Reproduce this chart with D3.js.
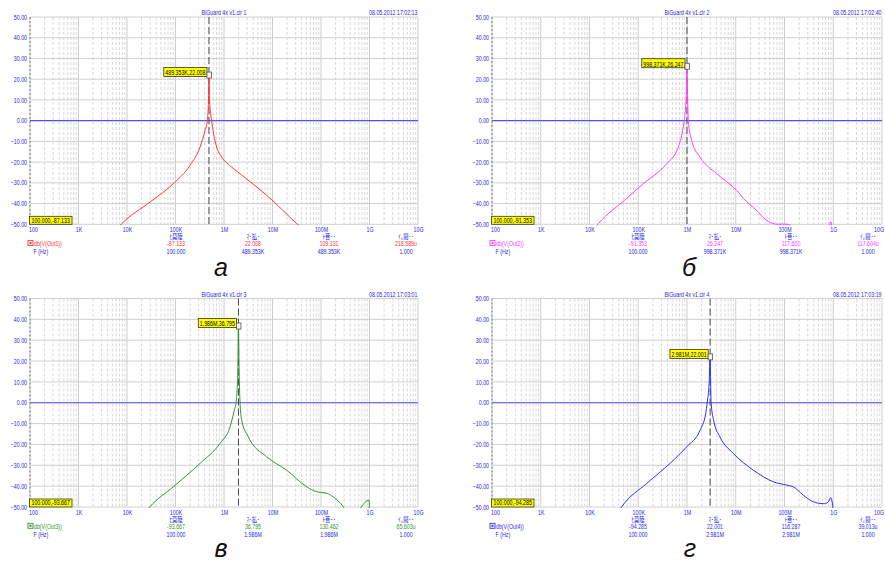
<!DOCTYPE html>
<html><head><meta charset="utf-8">
<script src="https://cdn.jsdelivr.net/npm/d3@7"></script>
<style>
body{margin:0;background:#fff}
svg{display:block}
text{font-family:"Liberation Sans Narrow","Liberation Sans",Arial,"Noto Sans CJK JP",sans-serif}
</style>
</head><body><svg id="c" width="885" height="569"></svg>
<script>
// ---- data ----
const freqTicks = [1e2,1e3,1e4,1e5,1e6,1e7,1e8,1e9,1e10];
const tickLabels = ["100","1K","10K","100K","1M","10M","100M","1G","10G"];
const dbTicks = [50,40,30,20,10,0,-10,-20,-30,-40,-50];

const titles = ["BiGuard 4x v1.cir 1","BiGuard 4x v1.cir 2","BiGuard 4x v1.cir 3","BiGuard 4x v1.cir 4"];
const dates = ["08.05.2012 17:02:13","08.05.2012 17:02:40","08.05.2012 17:03:01","08.05.2012 17:03:19"];
const seriesNames = ["db(V(Out1))","db(V(Out2))","db(V(Out3))","db(V(Out4))"];
const panelLetters = ["а","б","в","г"];

const f1 = [6.31e3,7.78e3,29.8e3,90.2e3,199e3,320e3,406e3,453e3,479e3,489.353e3,501e3,557e3,652e3,895e3,1.23e6,2.138e6,7.586e6,31.6e6,50e6];
const v1 = [-52,-49.7,-39.3,-30.4,-21.6,-12.8,-4.8,0,10,22.008,10,0,-9.6,-17.6,-21.0,-25.6,-36.0,-49.7,-54];

const f2 = [12.6e3,15.2e3,58.0e3,127e3,383e3,662e3,815e3,879e3,966e3,998.371e3,1.028e6,1.064e6,1.247e6,1.849e6,4.064e6,10.47e6,14.3e6,26.9e6,39.8e6,56.2e6,72.4e6,100e6,129e6,158e6,794e6,887e6,977e6,1.2e9];
const v2 = [-52,-49.7,-37.5,-30.4,-20.8,-12.8,-4.8,0,12,26.247,12,0,-9.6,-17.6,-25.6,-33.7,-37.5,-43.3,-47.5,-49.5,-50,-49.9,-50.2,-53,-53,-48.8,-53,-60];

const f3 = [25.1e3,29.8e3,90.2e3,320e3,828e3,1.33e6,1.633e6,1.778e6,1.928e6,1.986e6,2.051e6,2.138e6,2.317e6,3.177e6,7.586e6,19.5e6,50.6e6,81.3e6,131e6,178e6,288e6,331e6,501e6,676e6,977e6,1.012e9];
const v3 = [-52,-49.9,-40.3,-29.1,-19.5,-11.6,-3.6,0.4,15,36.795,15,0.4,-8.4,-16.4,-25.9,-32.3,-40.3,-42.7,-43.4,-45.1,-49.9,-52,-55,-50,-46.7,-56];

const f4 = [39.8e3,45.7e3,149e3,448e3,986e3,1.849e6,2.415e6,2.606e6,2.851e6,2.981e6,3.055e6,3.112e6,3.516e6,4.753e6,8.913e6,22.9e6,58.9e6,111e6,151e6,243e6,389e6,625e6,793e6,885e6,1e9,1.02e9];
const v4 = [-52,-49.9,-38.7,-29.1,-21.1,-13.2,-5.2,0.4,10,22.001,10,0.4,-8.4,-16.4,-24.3,-32.3,-37.9,-39.5,-40.3,-44.3,-47.5,-48.4,-47.6,-45.5,-52,-56];

const peakFreq = [489353, 998371, 1986000, 2981000];
const peakDb = [22.008, 26.247, 36.795, 22.001];
const peakLabels = ["489.353K,22.008","998.371K,26.247","1.986M,36.795","2.981M,22.001"];
const startLabels = ["100.000,-87.133","100.000,-91.353","100.000,-93.667","100.000,-94.285"];

const statHeaders = ["ﾋ莫陸","ﾏ･払･","ﾄ菩･･","ｲ｡鬪･･"];
const statValues = [["-87.133","22.008","109.131","218.589u"],["-91.353","26.247","117.600","117.604u"],["-93.667","36.795","130.462","65.603u"],["-94.285","22.001","116.287","39.013u"]];
const statFreqs = [["100.000","489.353K","489.353K","1.000"],["100.000","998.371K","998.371K","1.000"],["100.000","1.986M","1.986M","1.000"],["100.000","2.981M","2.981M","1.000"]];

// ---- layout / style ----
const freqs = [f1,f2,f3,f4], vals = [v1,v2,v3,v4];
const colors = ["#ff3535","#ff3dff","#2f962f","#2f2ff5"];
const boxes = [
  {L:30,R:418,T:17,B:224.3,lx:221,ly:276},
  {L:492,R:882,T:17,B:224.3,lx:689,ly:276},
  {L:30,R:418,T:298.5,B:507,lx:221,ly:557},
  {L:492,R:882,T:298.5,B:507,lx:690,ly:557}
];
const blue = "#2424e6";
const fs = 6.6;
const K = 0.8; // horizontal condensing of the small UI text
const colOff = [146,223,299,376];

function sq(sel){
  sel.each(function(){
    const x0 = +(this.getAttribute("x") || 0);
    const dx0 = +(this.getAttribute("dx") || 0);
    this.setAttribute("x", x0 / K);
    if (dx0) this.setAttribute("dx", dx0 / K);
    this.setAttribute("transform", `scale(${K},1)`);
  });
  return sel;
}
function bbox(node){
  const b = node.getBBox();
  return {x: b.x*K, width: b.width*K, y: b.y, height: b.height};
}

const svg = d3.select("#c");

boxes.forEach((b,p)=>{
  const x = d3.scaleLog().domain([1e2,1e10]).range([b.L,b.R]);
  const y = d3.scaleLinear().domain([-50,50]).range([b.B,b.T]);
  const g = svg.append("g");
  const nearEdge = b.R > 870;

  // grid
  x.ticks().forEach(t=>{
    const major = Math.abs(Math.log10(t)-Math.round(Math.log10(t)))<1e-9;
    g.append("line").attr("x1",x(t)).attr("x2",x(t)).attr("y1",b.T).attr("y2",b.B)
      .attr("stroke", major? "#cdcdcd":"#d8d8d8").attr("stroke-width",1)
      .attr("stroke-dasharray", major? null : "3,2");
  });
  dbTicks.forEach(t=>{
    g.append("line").attr("x1",b.L).attr("x2",b.R).attr("y1",y(t)).attr("y2",y(t))
      .attr("stroke","#d0d0d0").attr("stroke-width",1);
  });
  g.append("line").attr("x1",b.L).attr("x2",b.L).attr("y1",b.T).attr("y2",b.B)
    .attr("stroke","#7a7a7a").attr("stroke-dasharray","2,2");

  // axes labels
  const xa = g.append("g").attr("transform",`translate(0,${b.B})`)
    .call(d3.axisBottom(x).tickValues(freqTicks).tickFormat((d,i)=>tickLabels[i]).tickSize(0).tickPadding(3));
  xa.select(".domain").remove();
  xa.attr("font-family",null).attr("font-size",null);
  xa.selectAll("text").attr("fill",blue).attr("font-size",fs)
    .attr("dx",(d,i)=> i===0 ? 3 : (i===freqTicks.length-1 && nearEdge ? -3.5 : 0));
  sq(xa.selectAll("text"));

  const ya = g.append("g").attr("transform",`translate(${b.L-1},0)`)
    .call(d3.axisLeft(y).tickValues(dbTicks).tickFormat(d3.format(".2f")).tickSize(0).tickPadding(2));
  ya.select(".domain").remove();
  ya.attr("font-family",null).attr("font-size",null);
  ya.selectAll("text").attr("fill",blue).attr("font-size",fs);
  sq(ya.selectAll("text"));

  // zero line
  g.append("line").attr("x1",b.L).attr("x2",b.R).attr("y1",y(0)).attr("y2",y(0))
    .attr("stroke","#5050ff").attr("stroke-width",1.2);

  // cursor
  const cx = x(peakFreq[p]), cy = y(peakDb[p]);
  g.append("line").attr("x1",cx).attr("x2",cx).attr("y1",b.T).attr("y2",b.B)
    .attr("stroke","#4a4a4a").attr("stroke-width",1).attr("stroke-dasharray","7,3");

  // curve
  const cid = "clip"+p;
  svg.append("clipPath").attr("id",cid).append("rect")
    .attr("x",b.L).attr("y",b.T).attr("width",b.R-b.L).attr("height",b.B-b.T+1);
  const data = freqs[p].map((f,i)=>({f, v: vals[p][i]}));
  g.append("path").datum(data).attr("clip-path",`url(#${cid})`)
    .attr("fill","none").attr("stroke",colors[p]).attr("stroke-width",1)
    .attr("d", d3.line().x(d=>x(d.f)).y(d=>y(d.v)).curve(d3.curveMonotoneX));

  // peak marker + label
  const lt = g.append("text").attr("x",cx-3.5).attr("y",cy+0.3).attr("text-anchor","end")
    .attr("font-size",fs).attr("fill","#000").text(peakLabels[p]);
  sq(lt);
  const bb = bbox(lt.node());
  g.insert("rect", function(){return lt.node();})
    .attr("x",bb.x-1.5).attr("y",cy-7.5).attr("width",bb.width+2.5).attr("height",9)
    .attr("fill","#ffff00").attr("stroke","#333").attr("stroke-width",0.8);
  g.append("rect").attr("x",cx-2).attr("y",cy-3).attr("width",4.5).attr("height",6)
    .attr("fill","#f2f2f2").attr("stroke","#555").attr("stroke-width",0.8);

  // start label bottom-left
  const st = g.append("text").attr("x",b.L+1.5).attr("y",b.B-1.5)
    .attr("font-size",fs).attr("fill","#000").text(startLabels[p]);
  sq(st);
  const sb = bbox(st.node());
  g.insert("rect", function(){return st.node();})
    .attr("x",b.L-0.5).attr("y",b.B-8).attr("width",sb.width+3.5).attr("height",8)
    .attr("fill","#ffff00").attr("stroke","#333").attr("stroke-width",0.8);

  // title & date
  sq(g.append("text").attr("x",(b.L+b.R)/2).attr("y",b.T-1.8).attr("text-anchor","middle")
    .attr("font-size",fs).attr("fill",blue).text(titles[p]));
  sq(g.append("text").attr("x",b.R-0.5).attr("y",b.T-1.8).attr("text-anchor","end")
    .attr("font-size",fs).attr("fill",blue).text(dates[p]));

  // stats block
  statHeaders.forEach((h,i)=>{
    sq(g.append("text").attr("x",b.L+colOff[i]).attr("y",b.B+14.8).attr("text-anchor","middle")
      .attr("font-size",fs).attr("fill",blue).text(h));
    sq(g.append("text").attr("x",b.L+colOff[i]).attr("y",b.B+21.6).attr("text-anchor","middle")
      .attr("font-size",fs).attr("fill",colors[p]).text(statValues[p][i]));
    sq(g.append("text").attr("x",b.L+colOff[i]).attr("y",b.B+29.6).attr("text-anchor","middle")
      .attr("font-size",fs).attr("fill",blue).text(statFreqs[p][i]));
  });
  g.append("rect").attr("x",b.L-2).attr("y",b.B+16.3).attr("width",5).attr("height",5)
    .attr("fill","#fff").attr("stroke",colors[p]).attr("stroke-width",0.9);
  g.append("rect").attr("x",b.L-0.5).attr("y",b.B+17.8).attr("width",2).attr("height",2)
    .attr("fill",colors[p]);
  sq(g.append("text").attr("x",b.L+4).attr("y",b.B+21.6)
    .attr("font-size",fs).attr("fill",colors[p]).text(seriesNames[p]));
  sq(g.append("text").attr("x",b.L+3.5).attr("y",b.B+29.6)
    .attr("font-size",fs).attr("fill",blue).text("F (Hz)"));

  // panel letter
  g.append("text").attr("x",b.lx).attr("y",b.ly).attr("text-anchor","middle")
    .attr("font-family","'Liberation Serif','Times New Roman',serif").attr("font-style","italic")
    .attr("font-size",25).attr("fill","#111").text(panelLetters[p]);
});
</script>
</body></html>
